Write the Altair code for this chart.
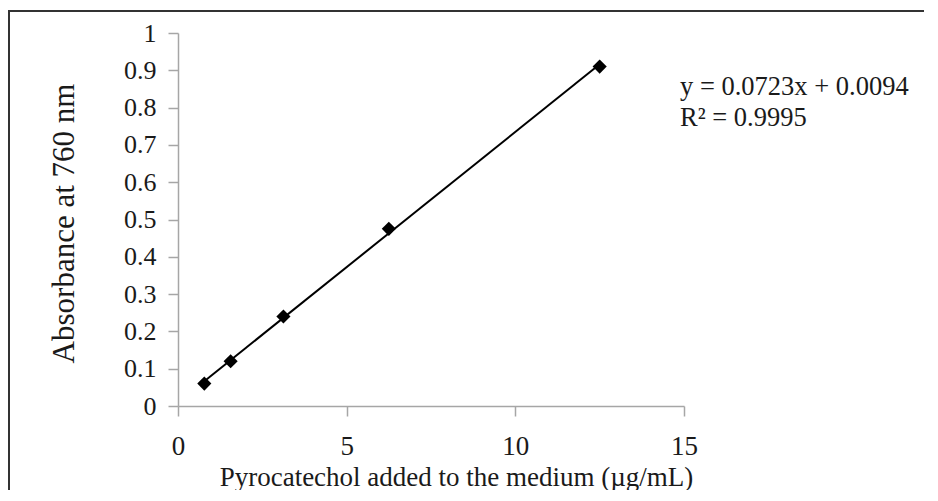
import altair as alt
import pandas as pd

# Data
concentration = [0.78, 1.56, 3.125, 6.25, 12.5]
absorbance = [0.06, 0.12, 0.24, 0.475, 0.91]
x_ticks = [0, 5, 10, 15]
y_ticks = [0, 0.1, 0.2, 0.3, 0.4, 0.5, 0.6, 0.7, 0.8, 0.9, 1]
equation_lines = ["y = 0.0723x + 0.0094", "R\u00b2 = 0.9995"]

df = pd.DataFrame({"x": concentration, "y": absorbance})

FONT = "Liberation Serif"
AXIS_COLOR = "#a6a6a6"
TEXT_COLOR = "#1a1a1a"

x_enc = alt.X(
    "x:Q",
    scale=alt.Scale(domain=[0, 15], nice=False, zero=True),
    axis=alt.Axis(
        values=x_ticks,
        title="Pyrocatechol added to the medium (\u00b5g/mL)",
        grid=False,
        tickSize=10,
        labelPadding=17,
        labelFlush=False,
        labelOverlap=False,
        labelFontSize=27,
        titleFontSize=27,
        titleX=278,
        titleY=79,
        titleAnchor="middle",
        titleAlign="center",
        titleBaseline="alphabetic",
    ),
)
y_enc = alt.Y(
    "y:Q",
    scale=alt.Scale(domain=[0, 1], nice=False),
    axis=alt.Axis(
        values=y_ticks,
        tickCount=11,
        format="~g",
        title="Absorbance at 760 nm",
        grid=False,
        tickSize=10,
        labelPadding=12,
        labelFlush=False,
        labelOverlap=False,
        labelBound=False,
        labelFontSize=26,
        titleFontSize=31,
        titleX=-105,
        titleY=190,
        titleBaseline="alphabetic",
    ),
)

base = alt.Chart(df)

trend = base.transform_regression("x", "y").mark_line(
    color="black", strokeWidth=2
).encode(x=x_enc, y=y_enc)

points = base.mark_point(
    shape="diamond", filled=True, size=200, color="black", opacity=1
).encode(x=x_enc, y=y_enc)

eq_df = pd.DataFrame({"line": equation_lines})

eq_line1 = alt.Chart(eq_df).transform_filter(
    alt.datum.line == equation_lines[0]
).mark_text(
    align="left", baseline="alphabetic", font=FONT, fontSize=26.5, color=TEXT_COLOR
).encode(x=alt.value(502), y=alt.value(62), text="line:N")

eq_line2 = alt.Chart(eq_df).transform_filter(
    alt.datum.line == equation_lines[1]
).mark_text(
    align="left", baseline="alphabetic", font=FONT, fontSize=26.5, color=TEXT_COLOR
).encode(x=alt.value(502), y=alt.value(93), text="line:N")

frame_left = alt.Chart(eq_df).mark_rule(color="#333333", strokeWidth=2).encode(
    x=alt.value(-169), y=alt.value(-22), y2=alt.value(600)
)
frame_top = alt.Chart(eq_df).mark_rule(color="#333333", strokeWidth=2).encode(
    x=alt.value(-170), x2=alt.value(900), y=alt.value(-22)
)

chart = alt.layer(
    frame_left, frame_top, trend, points, eq_line1, eq_line2
).properties(
    width=506,
    height=373,
    autosize=alt.AutoSizeParams(type="none"),
    padding={"left": 170, "top": 25, "right": 240, "bottom": 84},
    background="white",
).configure_view(stroke=None).configure_axis(
    domainColor=AXIS_COLOR,
    tickColor=AXIS_COLOR,
    domainWidth=1.5,
    tickWidth=1.5,
    labelFont=FONT,
    titleFont=FONT,
    labelColor=TEXT_COLOR,
    titleColor=TEXT_COLOR,
    titleFontWeight="normal",
    labelOverlap=False,
)

chart.save("out.html", embed_options={"renderer": "svg", "actions": False})
